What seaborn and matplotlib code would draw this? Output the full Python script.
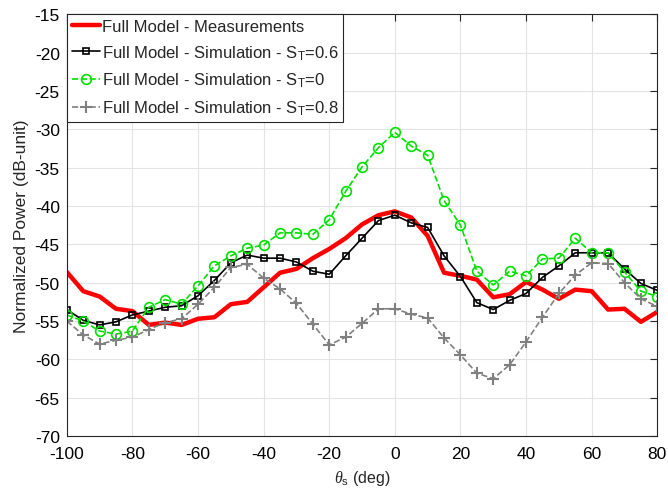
import matplotlib
matplotlib.use('Agg')
import matplotlib.pyplot as plt
import numpy as np
import pandas as pd
import seaborn as sns

angulos = list(range(-100, 85, 5))

medicoes = [-48.6, -51.1, -51.8, -53.4, -53.7, -55.5, -55.2, -55.5, -54.7, -54.5,
            -52.8, -52.5, -50.6, -48.7, -48.2, -46.8, -45.6, -44.2, -42.4, -41.2,
            -40.7, -41.5, -43.9, -48.7, -49.1, -49.6, -51.9, -51.5, -49.9, -50.9,
            -52.1, -50.9, -51.1, -53.5, -53.4, -55.1, -53.8]

sim_st06 = [-53.5, -54.9, -55.5, -55.1, -54.2, -53.7, -53.2, -53.0, -51.7, -49.7,
            -47.4, -46.4, -46.8, -46.8, -47.3, -48.5, -48.9, -46.5, -44.2, -41.9,
            -41.2, -42.2, -42.8, -46.5, -49.2, -52.6, -53.5, -52.3, -51.4, -49.3,
            -47.8, -46.1, -46.1, -46.1, -48.2, -50.1, -51.0]

sim_st0 = [-54.2, -55.0, -56.3, -56.7, -56.3, -53.2, -52.2, -52.8, -50.4, -47.8,
           -46.5, -45.5, -45.1, -43.5, -43.5, -43.7, -41.8, -38.1, -34.9, -32.4,
           -30.4, -32.2, -33.4, -39.3, -42.5, -48.5, -50.3, -48.5, -49.1, -46.9,
           -46.8, -44.2, -46.1, -46.1, -48.6, -51.1, -51.8]

sim_st08 = [-55.0, -56.8, -58.0, -57.5, -57.1, -56.1, -55.2, -54.7, -52.8, -50.6,
            -48.0, -47.6, -49.4, -50.8, -52.7, -55.4, -58.1, -57.1, -55.3, -53.4,
            -53.4, -54.1, -54.6, -57.2, -59.4, -61.8, -62.5, -60.7, -57.7, -54.5,
            -51.4, -49.0, -47.4, -47.5, -50.0, -52.1, -53.1]

rotulos = [
    'Full Model - Measurements',
    'Full Model - Simulation - S$_\\mathrm{T}$=0.6',
    'Full Model - Simulation - S$_\\mathrm{T}$=0',
    'Full Model - Simulation - S$_\\mathrm{T}$=0.8',
]

sns.set_style('whitegrid')
plt.rcParams['font.family'] = ['Liberation Sans', 'DejaVu Sans']
plt.rcParams['mathtext.fontset'] = 'custom'
plt.rcParams['mathtext.rm'] = 'Liberation Sans'
plt.rcParams['mathtext.it'] = 'Liberation Serif:italic'
plt.rcParams['axes.unicode_minus'] = False

fig = plt.figure(figsize=(6.68, 4.89), dpi=100)
ax = fig.add_axes([0.100, 0.106, 0.884, 0.863])

df = pd.DataFrame({'theta': angulos, 'med': medicoes, 's06': sim_st06,
                   's0': sim_st0, 's08': sim_st08})

sns.lineplot(data=df, x='theta', y='med', color='#ff0000', linewidth=3.2,
             label=rotulos[0], ax=ax)
sns.lineplot(data=df, x='theta', y='s06', color='black', linewidth=1.2,
             marker='s', markersize=5, markerfacecolor='none',
             markeredgecolor='black', markeredgewidth=1.2,
             label=rotulos[1], ax=ax)
sns.lineplot(data=df, x='theta', y='s0', color='#00e000', linewidth=1.2,
             linestyle='--', marker='o', markersize=7, markerfacecolor='none',
             markeredgecolor='#00e000', markeredgewidth=1.2,
             label=rotulos[2], ax=ax)
sns.lineplot(data=df, x='theta', y='s08', color='#808080', linewidth=1.2,
             linestyle='--', marker='+', markersize=8,
             markeredgecolor='#808080', markeredgewidth=1.5,
             label=rotulos[3], ax=ax)

ax.set_xlim(-100, 80)
ax.set_ylim(-70, -15)
ax.set_xticks(np.arange(-100, 81, 20))
ax.set_yticks(np.arange(-70, -14, 5))
ax.tick_params(axis='both', direction='in', length=5, width=0.8, labelsize=12.5,
               top=True, right=True, colors='#262626', labelcolor='black')
ax.tick_params(axis='x', pad=7)
ax.tick_params(axis='y', pad=5)
ax.grid(True, color='#e3e3e3', linewidth=0.8)
for lado in ax.spines.values():
    lado.set_color('#262626')
    lado.set_linewidth(0.8)

ax.set_xlabel(r'$\theta_\mathrm{s}$ (deg)', fontsize=11.5, labelpad=5)
ax.set_ylabel('Normalized Power (dB-unit)', fontsize=12.5)

leg = ax.legend(loc='upper left', fontsize=12, frameon=True, fancybox=False,
                edgecolor='#262626', framealpha=1, borderaxespad=0,
                handlelength=1.7, handletextpad=0.1, labelspacing=0.55,
                borderpad=0.3)
leg.get_frame().set_linewidth(0.8)

fig.savefig('out.png', dpi=100)
